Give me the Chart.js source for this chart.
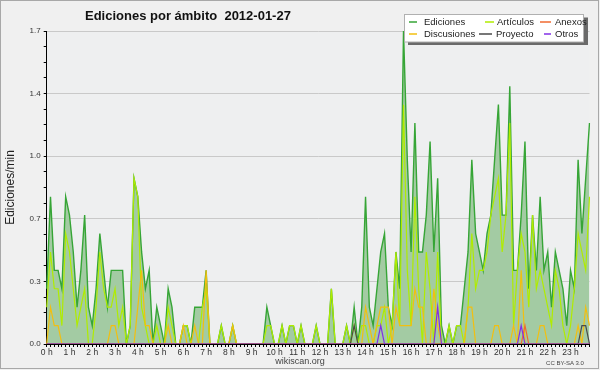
<!DOCTYPE html>
<html>
<head>
<meta charset="utf-8">
<script src="https://cdn.jsdelivr.net/npm/chart.js@4.4.1/dist/chart.umd.min.js"></script>
<style>
	html, body { margin: 0; padding: 0; background: #f0f0f0; }
</style>
</head>
<body>
<canvas id="chart-day" width="600" height="370"></canvas>
<script>
// horas del día (una etiqueta cada 6 puntos de 10 min)
const hourLabels = ['0 h', '1 h', '2 h', '3 h', '4 h', '5 h', '6 h', '7 h', '8 h', '9 h', '10 h', '11 h',
	'12 h', '13 h', '14 h', '15 h', '16 h', '17 h', '18 h', '19 h', '20 h', '21 h', '22 h', '23 h'];
const yTickLabels = ['0.0', '0.3', '0.7', '1.0', '1.4', '1.7'];

// ediciones por minuto, tramos de 10 min (una fila = una hora)
const ediciones = [
	0.3, 0.8, 0.4, 0.4, 0.3, 0.8,
	0.7, 0.5, 0.2, 0.4, 0.7, 0.2,
	0.1, 0.3, 0.6, 0.4, 0.2, 0.4,
	0.4, 0.4, 0.4, 0.0, 0.1, 0.9,
	0.8, 0.5, 0.3, 0.4, 0.0, 0.2,
	0.1, 0.0, 0.3, 0.2, 0.0, 0.0,
	0.1, 0.1, 0.0, 0.2, 0.2, 0.2,
	0.4, 0.0, 0.0, 0.0, 0.1, 0.0,
	0.0, 0.1, 0.0, 0.0, 0.0, 0.0,
	0.0, 0.0, 0.0, 0.0, 0.2, 0.1,
	0.0, 0.0, 0.1, 0.0, 0.1, 0.1,
	0.0, 0.1, 0.0, 0.0, 0.0, 0.1,
	0.0, 0.0, 0.0, 0.3, 0.0, 0.0,
	0.0, 0.1, 0.0, 0.2, 0.0, 0.2,
	0.8, 0.2, 0.1, 0.3, 0.5, 0.6,
	0.2, 0.1, 0.5, 0.3, 1.7, 1.0,
	0.5, 1.2, 0.5, 0.5, 0.7, 1.1,
	0.5, 0.9, 0.1, 0.0, 0.1, 0.0,
	0.1, 0.1, 0.3, 0.5, 1.0, 0.6,
	0.5, 0.4, 0.6, 0.7, 1.0, 1.3,
	0.7, 0.7, 1.4, 0.4, 0.4, 0.7,
	1.1, 0.3, 0.7, 0.4, 0.8, 0.4,
	0.5, 0.2, 0.5, 0.4, 0.3, 0.1,
	0.4, 0.3, 1.0, 0.6, 0.9, 1.2
];
const articulos = [
	0.2, 0.5, 0.3, 0.3, 0.1, 0.6,
	0.5, 0.3, 0.1, 0.2, 0.3, 0.0,
	0.0, 0.2, 0.5, 0.3, 0.2, 0.2,
	0.3, 0.1, 0.2, 0.0, 0.1, 0.9,
	0.8, 0.2, 0.1, 0.0, 0.0, 0.1,
	0.0, 0.0, 0.2, 0.1, 0.0, 0.0,
	0.1, 0.1, 0.0, 0.0, 0.0, 0.2,
	0.3, 0.0, 0.0, 0.0, 0.1, 0.0,
	0.0, 0.1, 0.0, 0.0, 0.0, 0.0,
	0.0, 0.0, 0.0, 0.0, 0.1, 0.1,
	0.0, 0.0, 0.1, 0.0, 0.1, 0.1,
	0.0, 0.1, 0.0, 0.0, 0.0, 0.1,
	0.0, 0.0, 0.0, 0.3, 0.0, 0.0,
	0.0, 0.1, 0.0, 0.1, 0.0, 0.1,
	0.1, 0.0, 0.0, 0.1, 0.1, 0.2,
	0.0, 0.1, 0.5, 0.1, 1.3, 0.4,
	0.1, 0.8, 0.3, 0.0, 0.5, 0.3,
	0.0, 0.5, 0.0, 0.0, 0.1, 0.0,
	0.1, 0.1, 0.0, 0.2, 0.6, 0.3,
	0.4, 0.4, 0.5, 0.7, 0.8, 0.9,
	0.5, 0.7, 1.2, 0.1, 0.4, 0.6,
	0.5, 0.2, 0.7, 0.3, 0.4, 0.3,
	0.2, 0.1, 0.4, 0.3, 0.1, 0.0,
	0.1, 0.3, 0.6, 0.5, 0.4, 0.8
];
const discusiones = [
	0.0, 0.2, 0.1, 0.1, 0.0, 0.0,
	0.0, 0.0, 0.0, 0.0, 0.0, 0.0,
	0.0, 0.0, 0.0, 0.0, 0.0, 0.1,
	0.1, 0.0, 0.0, 0.0, 0.0, 0.0,
	0.2, 0.4, 0.1, 0.1, 0.0, 0.0,
	0.0, 0.0, 0.1, 0.0, 0.0, 0.0,
	0.1, 0.0, 0.0, 0.1, 0.0, 0.0,
	0.4, 0.0, 0.0, 0.0, 0.0, 0.0,
	0.0, 0.1, 0.0, 0.0, 0.0, 0.0,
	0.0, 0.0, 0.0, 0.0, 0.0, 0.0,
	0.0, 0.0, 0.0, 0.0, 0.0, 0.0,
	0.0, 0.0, 0.0, 0.0, 0.0, 0.0,
	0.0, 0.0, 0.0, 0.0, 0.0, 0.0,
	0.0, 0.0, 0.0, 0.0, 0.0, 0.0,
	0.2, 0.1, 0.0, 0.1, 0.2, 0.2,
	0.2, 0.0, 0.2, 0.1, 0.1, 0.1,
	0.1, 0.3, 0.2, 0.2, 0.0, 0.0,
	0.3, 0.1, 0.0, 0.0, 0.0, 0.0,
	0.0, 0.0, 0.0, 0.2, 0.2, 0.0,
	0.0, 0.0, 0.0, 0.0, 0.1, 0.1,
	0.0, 0.0, 0.0, 0.1, 0.0, 0.4,
	0.0, 0.0, 0.0, 0.0, 0.1, 0.1,
	0.0, 0.0, 0.0, 0.0, 0.0, 0.0,
	0.0, 0.0, 0.1, 0.0, 0.2, 0.1
];
const proyecto = [
	0, 0, 0, 0, 0, 0,
	0, 0, 0, 0, 0, 0,
	0, 0, 0, 0, 0, 0,
	0, 0, 0, 0, 0, 0,
	0, 0, 0, 0, 0, 0,
	0, 0, 0, 0, 0, 0,
	0, 0, 0, 0, 0, 0,
	0, 0, 0, 0, 0, 0,
	0, 0, 0, 0, 0, 0,
	0, 0, 0, 0, 0, 0,
	0, 0, 0, 0, 0, 0,
	0, 0, 0, 0, 0, 0,
	0, 0, 0, 0, 0, 0,
	0, 0, 0, 0.1, 0, 0,
	0, 0, 0, 0, 0, 0,
	0, 0, 0, 0, 0, 0,
	0, 0, 0, 0, 0, 0,
	0, 0, 0, 0, 0, 0,
	0, 0, 0, 0, 0, 0,
	0, 0, 0, 0, 0, 0,
	0, 0, 0, 0, 0, 0,
	0, 0, 0, 0, 0, 0,
	0, 0, 0, 0, 0, 0,
	0, 0, 0, 0.1, 0.1, 0
];
const anexos = [
	0, 0, 0, 0, 0, 0,
	0, 0, 0, 0, 0, 0,
	0, 0, 0, 0, 0, 0,
	0, 0, 0, 0, 0, 0,
	0, 0, 0, 0, 0, 0,
	0, 0, 0, 0, 0, 0,
	0, 0, 0, 0, 0, 0,
	0, 0, 0, 0, 0, 0,
	0, 0, 0, 0, 0, 0,
	0, 0, 0, 0, 0, 0,
	0, 0, 0, 0, 0, 0,
	0, 0, 0, 0, 0, 0,
	0, 0, 0, 0, 0, 0,
	0, 0, 0, 0, 0, 0,
	0, 0, 0, 0, 0, 0,
	0, 0, 0, 0, 0, 0,
	0, 0, 0, 0, 0, 0,
	0, 0, 0, 0, 0, 0,
	0, 0, 0, 0, 0, 0,
	0, 0, 0, 0, 0, 0,
	0, 0, 0, 0, 0, 0,
	0.1, 0, 0, 0, 0, 0,
	0, 0, 0, 0, 0, 0,
	0, 0, 0, 0, 0, 0
];
const otros = [
	0, 0, 0, 0, 0, 0,
	0, 0, 0, 0, 0, 0,
	0, 0, 0, 0, 0, 0,
	0, 0, 0, 0, 0, 0,
	0, 0, 0, 0, 0, 0,
	0, 0, 0, 0, 0, 0,
	0, 0, 0, 0, 0, 0,
	0, 0, 0, 0, 0, 0,
	0, 0, 0, 0, 0, 0,
	0, 0, 0, 0, 0, 0,
	0, 0, 0, 0, 0, 0,
	0, 0, 0, 0, 0, 0,
	0, 0, 0, 0, 0, 0,
	0, 0, 0, 0, 0, 0,
	0, 0, 0, 0, 0.1, 0,
	0, 0, 0, 0, 0, 0,
	0, 0, 0, 0, 0, 0,
	0, 0.2, 0, 0, 0, 0,
	0, 0, 0, 0, 0, 0,
	0, 0, 0, 0, 0, 0,
	0, 0, 0, 0, 0, 0.1,
	0, 0, 0, 0, 0, 0,
	0, 0, 0, 0, 0, 0,
	0, 0, 0, 0, 0, 0
];

const times = [];
hourLabels.forEach((h, i) => {
	for (let m = 0; m < 6; m++) times.push(i + ':' + m + '0');
});

const FONT = "'Liberation Sans', Arial, sans-serif";
const Y_MAX = 1.7;

// fondo, marco, título, leyenda y pies
const decor = {
	id: 'decor',
	beforeDraw(chart) {
		const c = chart.ctx, a = chart.chartArea;
		c.save();
		c.fillStyle = '#f0f0f0';
		c.fillRect(0, 0, chart.width, chart.height);
		c.fillStyle = '#eeeff0';
		c.fillRect(a.left, a.top, a.right - a.left, a.bottom - a.top);
		c.restore();
	},
	afterDraw(chart) {
		const c = chart.ctx;
		const ds = chart.data.datasets;
		c.save();
		c.strokeStyle = '#a8a8a8';
		c.lineWidth = 1;
		c.strokeRect(0.5, 0.5, 598, 368);

		c.fillStyle = '#111';
		c.font = 'bold 13px ' + FONT;
		c.textBaseline = 'alphabetic';
		c.fillText('Ediciones por ámbito  2012-01-27', 85, 20);

		// leyenda
		c.fillStyle = '#6a6a6a';
		c.fillRect(408, 17.5, 180, 27.5);
		c.fillStyle = '#fff';
		c.fillRect(404, 14.5, 180, 27.5);
		c.strokeStyle = '#b0b0b0';
		c.strokeRect(404.5, 14.5, 179, 27.5);
		const slots = [
			[0, 409, 8, 424, 22], [1, 485, 9, 497, 22], [4, 540, 11, 555, 22],
			[2, 409, 8, 424, 34], [3, 479, 13, 496, 34], [5, 544, 7, 555, 34]
		];
		c.font = '9.5px ' + FONT;
		c.textBaseline = 'middle';
		slots.forEach(([k, x, len, tx, y]) => {
			c.strokeStyle = ds[k].borderColor;
			c.lineWidth = 1.5;
			c.beginPath();
			c.moveTo(x, y);
			c.lineTo(x + len, y);
			c.stroke();
			c.fillStyle = '#222';
			c.fillText(ds[k].label, tx, y);
		});

		c.fillStyle = '#444';
		c.textAlign = 'center';
		c.font = '9px ' + FONT;
		c.fillText('wikiscan.org', 300, 362);
		c.font = '6px ' + FONT;
		c.fillText('CC BY-SA 3.0', 565, 363);
		c.restore();
	}
};

const canvasDay = document.getElementById('chart-day').getContext('2d');

const line = (label, data, color, order, extra) => Object.assign({
	label: label,
	data: data,
	borderColor: color,
	borderWidth: 1.2,
	pointRadius: 0,
	tension: 0,
	fill: false,
	order: order
}, extra || {});

let chartDay = new Chart(canvasDay, {
	type: 'line',
	data: {
		labels: times,
		datasets: [
			line('Ediciones', ediciones, '#36a536', 6, { fill: 'origin', backgroundColor: '#a3cba3', borderWidth: 1.4 }),
			line('Artículos', articulos, '#b0ec00', 5),
			line('Discusiones', discusiones, '#f2bf10', 4),
			line('Proyecto', proyecto, '#4a4a4a', 3),
			line('Anexos', anexos, '#f06a30', 2),
			line('Otros', otros, '#8230e6', 1)
		]
	},
	options: {
		responsive: false,
		animation: false,
		layout: {
			padding: { top: 31, right: 10.5, left: 0, bottom: 0 }
		},
		plugins: {
			legend: { display: false },
			title: { display: false },
			tooltip: { enabled: false },
			filler: { drawTime: 'beforeDatasetsDraw' }
		},
		scales: {
			x: {
				type: 'category',
				offset: false,
				afterFit: s => { s.height = 26; },
				ticks: {
					autoSkip: false,
					maxRotation: 0,
					minRotation: 0,
					padding: 1,
					color: '#333',
					font: { family: FONT, size: 8.5 },
					callback: (v, i) => i % 6 === 0 ? hourLabels[i / 6] : ''
				},
				grid: { drawOnChartArea: false, tickColor: '#000', tickLength: 3 },
				border: { color: '#000', width: 1 }
			},
			y: {
				min: 0,
				max: Y_MAX,
				afterBuildTicks: s => {
					const t = [];
					for (let k = 0; k <= 20; k++) t.push({ value: Y_MAX * k / 20 });
					s.ticks = t;
				},
				afterFit: s => { s.width = 46.7; },
				ticks: {
					autoSkip: false,
					padding: 3,
					color: '#333',
					font: { family: FONT, size: 8 },
					callback: (v, i) => i % 4 === 0 ? yTickLabels[i / 4] : ''
				},
				grid: {
					color: c => c.index % 4 === 0 && c.index > 0 ? '#c9c9c9' : 'rgba(0,0,0,0)',
					tickColor: '#000',
					tickLength: 3
				},
				border: { color: '#000', width: 1 },
				title: {
					display: true,
					text: 'Ediciones/min',
					color: '#222',
					font: { family: FONT, size: 12 },
					padding: { top: 3, bottom: 0 }
				}
			}
		}
	},
	plugins: [decor]
});
</script>
</body>
</html>
